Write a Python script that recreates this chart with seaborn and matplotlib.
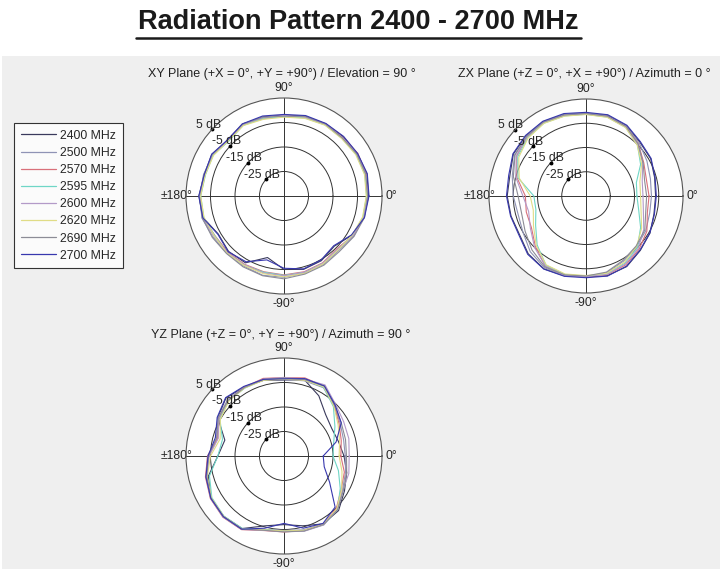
import numpy as np
import pandas as pd
import seaborn as sns
import matplotlib.pyplot as plt
from matplotlib.lines import Line2D
from matplotlib.patches import Rectangle

sns.set_style("white")
plt.rcParams['font.family'] = ['Liberation Sans', 'DejaVu Sans']

# ---- data (dB), every 15 degrees ----
freqs = ["2400 MHz", "2500 MHz", "2570 MHz", "2595 MHz",
         "2600 MHz", "2620 MHz", "2690 MHz", "2700 MHz"]
colors = ["#3a3a5c", "#8f93b5", "#d9707a", "#6fd6c6",
          "#b39ac8", "#e0dc86", "#8c8c96", "#3838ae"]
angles_deg = list(range(0, 360, 15))

# XY plane
xy_2400 = [-0.5, 0.0, -0.4, -0.8, -1.0, -1.3, -2.0, -1.6, -1.2, -2.8, -1.0, -1.4,
           -0.3, -0.8, -4.0, -3.0, -3.5, -9.0, -5.0, -4.0, -4.5, -6.0, -3.0, -1.2]
xy_2500 = [-1.2, -0.6, -0.8, -1.5, -1.3, -1.6, -2.3, -2.0, -1.0, -2.5, -1.5, -1.0,
           -0.6, -0.3, -1.5, -2.0, -2.0, -1.5, -1.8, -2.5, -2.8, -3.5, -2.2, -1.5]
xy_2570 = [-1.0, -0.3, -0.2, -1.2, -1.0, -1.8, -2.2, -2.4, -1.4, -2.9, -1.3, -1.6,
           -0.8, -0.9, -2.5, -2.6, -2.8, -3.0, -2.8, -3.0, -3.5, -4.5, -2.6, -1.2]
xy_2595 = [-1.3, -0.8, -0.9, -1.6, -1.5, -2.0, -2.6, -2.2, -1.7, -3.2, -1.6, -1.8,
           -1.0, -1.1, -2.4, -2.2, -2.5, -2.8, -2.6, -2.7, -3.2, -4.0, -2.8, -1.6]
xy_2600 = [-0.9, -0.5, -0.6, -1.3, -1.2, -1.7, -2.1, -1.9, -1.3, -2.7, -1.2, -1.3,
           -0.5, -0.6, -2.0, -2.4, -2.6, -2.5, -2.4, -2.8, -3.3, -4.2, -2.5, -1.3]
xy_2620 = [-1.4, -1.0, -1.2, -1.8, -1.6, -2.2, -2.8, -2.6, -1.8, -3.0, -1.8, -1.7,
           -1.0, -1.2, -2.2, -2.1, -2.3, -2.2, -2.0, -2.3, -3.0, -3.8, -2.9, -1.8]
xy_2690 = [-0.8, -0.4, -0.7, -1.4, -1.1, -1.4, -2.4, -1.7, -1.1, -2.6, -1.1, -1.2,
           -0.4, -0.5, -1.2, -1.8, -1.6, -1.3, -1.2, -2.0, -2.4, -3.0, -2.0, -1.0]
xy_2700 = [-0.3, 0.2, -0.3, -0.6, -0.8, -1.0, -1.7, -1.2, -1.0, -2.5, -0.9, -1.3,
           -0.2, -0.7, -3.8, -2.8, -4.0, -8.0, -5.5, -4.2, -4.8, -6.3, -3.2, -1.0]

# ZX plane
zx_2400 = [-6.3, -5.7, -4.2, -3.6, -1.6, -0.6, -0.9, -0.2, 0.4, 0.0, -0.4, -2.5,
           -2.5, -3.0, -3.3, -1.3, -0.3, -0.9, -1.6, -1.0, -1.4, -3.3, -4.5, -6.0]
zx_2500 = [-8.0, -7.5, -6.0, -4.0, -1.8, -0.8, -0.8, -0.3, 0.3, -0.2, -1.0, -3.5,
           -5.0, -6.0, -5.0, -2.5, -0.8, -1.0, -1.8, -2.2, -4.0, -5.5, -6.5, -7.8]
zx_2570 = [-9.0, -9.2, -7.5, -4.5, -2.0, -1.0, -1.2, -0.6, 0.0, -0.6, -2.0, -5.5,
           -10.0, -9.5, -9.0, -5.5, -1.5, -1.2, -1.8, -1.4, -2.2, -4.0, -6.0, -8.8]
zx_2595 = [-14.0, -13.5, -9.0, -5.0, -2.3, -1.3, -1.3, -0.8, -0.3, -1.0, -2.5, -6.0,
           -13.5, -13.6, -11.0, -6.5, -2.0, -1.5, -2.0, -1.8, -3.0, -5.0, -9.0, -12.5]
zx_2600 = [-11.5, -11.0, -8.0, -4.8, -2.1, -1.1, -1.1, -0.5, 0.1, -0.5, -1.8, -5.0,
           -9.0, -10.5, -8.5, -5.0, -1.6, -1.1, -1.7, -1.5, -2.6, -4.5, -7.5, -10.5]
zx_2620 = [-12.5, -12.0, -8.5, -5.2, -2.4, -1.4, -1.4, -0.9, -0.4, -1.2, -3.0, -6.5,
           -12.0, -12.5, -10.0, -6.0, -2.2, -1.7, -2.2, -2.0, -3.4, -5.5, -8.5, -11.5]
zx_2690 = [-10.0, -10.0, -7.8, -4.6, -1.9, -0.9, -1.0, -0.4, 0.2, -0.3, -1.2, -4.0,
           -7.0, -7.5, -6.0, -3.5, -1.2, -1.3, -2.0, -2.5, -4.4, -5.8, -7.0, -9.5]
zx_2700 = [-6.0, -5.5, -4.0, -3.3, -1.3, -0.3, -0.5, 0.2, 0.6, 0.3, -0.2, -2.0,
           -2.2, -2.8, -3.0, -1.0, -0.2, -0.7, -1.3, -0.8, -1.6, -3.5, -4.6, -5.8]

# YZ plane
yz_2400 = [-10.5, -12.0, -12.5, -11.0, -6.6, -2.8, -4.0, -3.0, -2.5, -1.5, -3.8, -10.0,
           -8.0, -3.0, -0.6, -0.2, -0.8, -5.5, -7.0, -5.5, -3.0, -3.5, -6.5, -8.5]
yz_2500 = [-10.0, -9.8, -8.5, -6.0, -2.8, -3.2, -3.8, -2.9, -2.4, -2.5, -3.9, -6.8,
           -3.8, -2.2, -0.5, 0.1, -0.4, -4.0, -4.6, -3.8, -2.9, -4.2, -7.4, -9.0]
yz_2570 = [-11.8, -10.8, -9.0, -6.0, -2.2, -2.0, -3.0, -2.2, -2.6, -2.9, -4.5, -7.0,
           -3.8, -1.8, -0.3, 0.3, -0.3, -3.5, -4.0, -3.5, -2.8, -4.8, -8.0, -9.5]
yz_2595 = [-15.0, -14.0, -11.0, -6.5, -2.6, -2.6, -3.4, -2.8, -3.0, -3.0, -4.8, -9.0,
           -8.0, -3.5, -1.0, -0.3, -0.9, -3.9, -4.3, -3.4, -2.6, -4.1, -8.5, -12.0]
yz_2600 = [-8.4, -7.6, -6.9, -5.2, -1.5, -2.5, -2.9, -2.5, -2.8, -2.7, -4.2, -7.2,
           -4.5, -2.2, -0.4, 0.2, -0.4, -3.6, -4.2, -3.2, -2.5, -4.3, -7.2, -7.6]
yz_2620 = [-12.5, -11.5, -9.5, -6.2, -2.4, -3.0, -3.6, -3.0, -2.9, -3.2, -5.0, -8.0,
           -5.0, -2.6, -0.8, -0.2, -0.6, -3.8, -4.4, -3.6, -2.8, -4.5, -7.8, -10.5]
yz_2690 = [-9.5, -9.0, -8.0, -5.8, -2.0, -2.7, -3.2, -2.7, -2.7, -2.8, -4.0, -6.5,
           -4.2, -2.4, -0.6, 0.0, -0.6, -3.6, -4.0, -3.3, -2.7, -4.0, -7.0, -8.5]
yz_2700 = [-19.0, -13.0, -8.0, -5.5, -2.0, -2.3, -3.5, -2.6, -2.2, -1.3, -3.5, -6.0,
           -4.0, -2.0, -0.5, 0.0, -0.5, -4.5, -7.5, -4.5, -3.2, -5.5, -13.5, -18.0]

xy_series = [xy_2400, xy_2500, xy_2570, xy_2595, xy_2600, xy_2620, xy_2690, xy_2700]
zx_series = [zx_2400, zx_2500, zx_2570, zx_2595, zx_2600, zx_2620, zx_2690, zx_2700]
yz_series = [yz_2400, yz_2500, yz_2570, yz_2595, yz_2600, yz_2620, yz_2690, yz_2700]


def to_frame(series):
    rows = []
    for f, vals in zip(freqs, series):
        # close the loop by repeating the first point at 360 deg
        for a, v in zip(angles_deg + [360], vals + [vals[0]]):
            rows.append({"theta": np.deg2rad(a), "dB": v, "freq": f})
    return pd.DataFrame(rows)


palette = dict(zip(freqs, colors))

fig = plt.figure(figsize=(7.28, 5.82), dpi=100)
fig.patch.set_facecolor("white")
# grey panel behind the plots
fig.patches.append(Rectangle((2 / 728, 1 - 569 / 582), 718 / 728, 513 / 582,
                             transform=fig.transFigure, facecolor="#efefef",
                             edgecolor="none", zorder=-10))


def px_axes(cx, cy, r):
    return fig.add_axes([(cx - r) / 728, 1 - (cy + r) / 582, 2 * r / 728, 2 * r / 582],
                        projection="polar")


def draw_plane(ax, series):
    df = to_frame(series)
    sns.lineplot(data=df, x="theta", y="dB", hue="freq", palette=palette,
                 sort=False, estimator=None, linewidth=0.8, legend=False, ax=ax)
    ax.set_facecolor("white")
    ax.set_ylim(-35, 5)
    ax.set_rgrids([-25, -15, -5], labels=["", "", ""])
    ax.set_thetagrids([0, 90, 180, 270], labels=["0°", "90°", "±180°", "-90°"], fontsize=8.8)
    ax.grid(True, color="#333333", linewidth=0.7, linestyle="-")
    ax.spines["polar"].set_color("#555555")
    ax.spines["polar"].set_linewidth(0.8)
    ax.tick_params(axis="x", pad=-3.5)
    ax.set_xlabel("")
    ax.set_ylabel("")
    th = np.deg2rad(137)
    for r, lab in zip([5, -5, -15, -25], ["5 dB", "-5 dB", "-15 dB", "-25 dB"]):
        ax.plot(th, r, marker="o", markersize=1.8, color="black", clip_on=False)
        ax.annotate(lab, xy=(th, r), xytext=(-3, -1), textcoords="offset points",
                    ha="center", va="bottom", fontsize=8.8, annotation_clip=False)


ax_xy = px_axes(284, 196, 98)
draw_plane(ax_xy, xy_series)
ax_zx = px_axes(586, 196, 97)
draw_plane(ax_zx, zx_series)
ax_yz = px_axes(284, 456, 98)
draw_plane(ax_yz, yz_series)

fig.text(282 / 728, 1 - 74 / 582, "XY Plane (+X = 0°, +Y = +90°) / Elevation = 90 °",
         ha="center", va="center", fontsize=9, color="#222222")
fig.text(584 / 728, 1 - 74 / 582, "ZX Plane (+Z = 0°, +X = +90°) / Azimuth = 0 °",
         ha="center", va="center", fontsize=9, color="#222222")
fig.text(281 / 728, 1 - 335 / 582, "YZ Plane (+Z = 0°, +Y = +90°) / Azimuth = 90 °",
         ha="center", va="center", fontsize=9, color="#222222")

# main title, underlined
fig.text(358 / 728, 1 - 22 / 582, "Radiation Pattern 2400 - 2700 MHz",
         ha="center", va="center", fontsize=19.5, fontweight="bold", color="#1a1a1a")
fig.add_artist(Line2D([136 / 728, 581 / 728], [1 - 38 / 582, 1 - 38 / 582],
                      transform=fig.transFigure, color="#1a1a1a", linewidth=1.8))

handles = [Line2D([], [], color=c, linewidth=0.9) for c in colors]
leg = fig.legend(handles, freqs, loc="upper left",
                 bbox_to_anchor=(14 / 728, 1 - 123 / 582), fontsize=8.8,
                 frameon=True, fancybox=False, edgecolor="#333333",
                 facecolor="#fbfbfb", framealpha=1, handlelength=2.9,
                 handletextpad=0.35, labelspacing=0.42, borderpad=0.55,
                 borderaxespad=0)
leg.get_frame().set_linewidth(0.8)

fig.savefig("out.png", dpi=100)
plt.close()
